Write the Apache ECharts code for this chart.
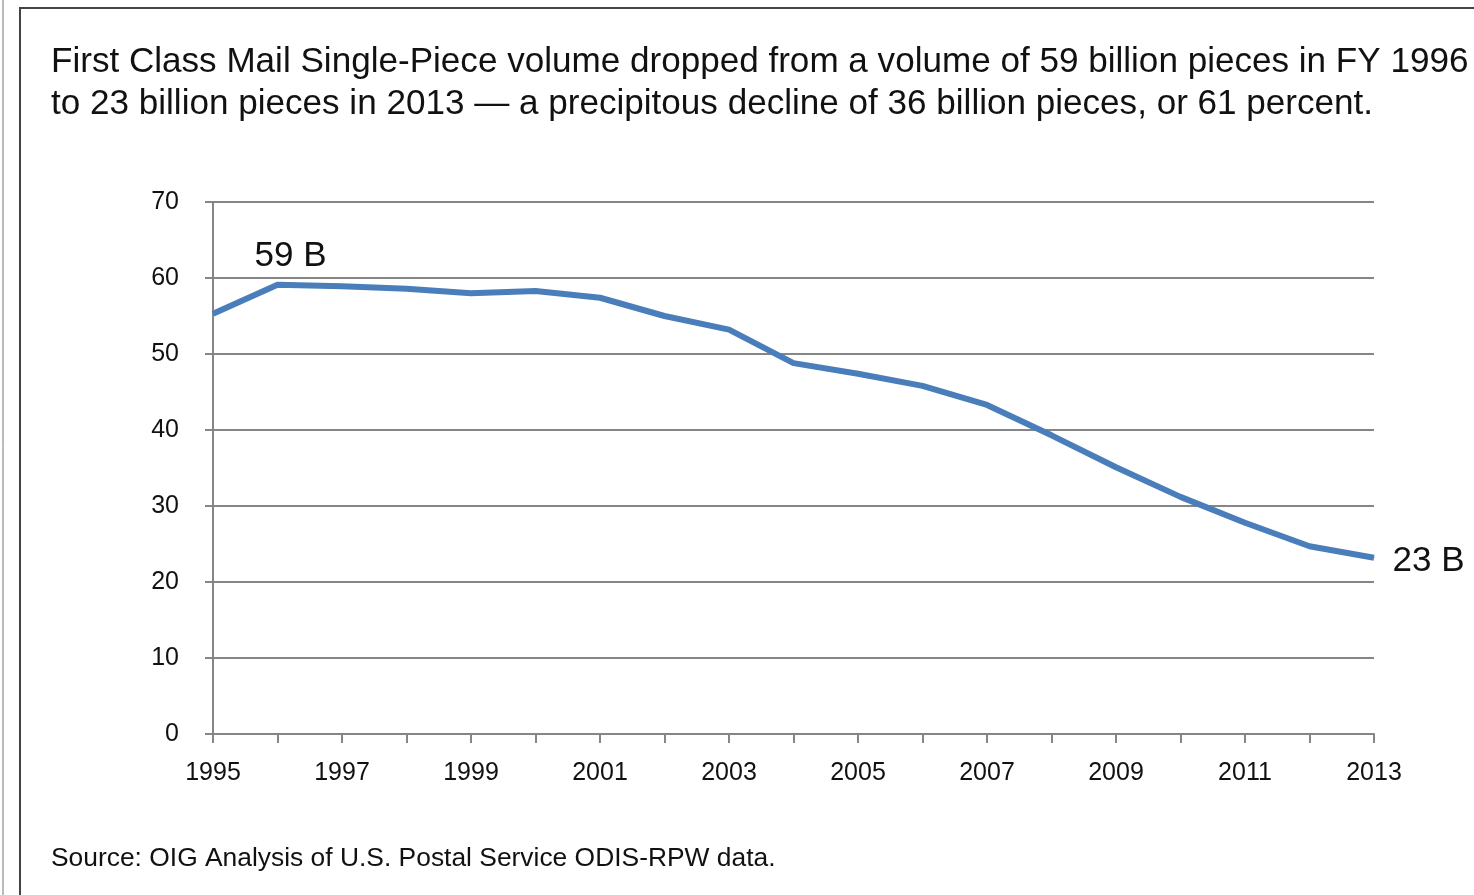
<!DOCTYPE html>
<html>
<head>
<meta charset="utf-8">
<script src="https://cdn.jsdelivr.net/npm/echarts@6/dist/echarts.min.js"></script>
<style>
html,body{margin:0;padding:0;background:#fff;}
#chart{width:1474px;height:895px;}
</style>
</head>
<body>
<div id="chart"></div>
<script>
const years = ['1995','1996','1997','1998','1999','2000','2001','2002','2003','2004','2005','2006','2007','2008','2009','2010','2011','2012','2013'];
const volume = [55.3, 59.1, 58.9, 58.6, 58.0, 58.3, 57.4, 55.0, 53.2, 48.8, 47.4, 45.8, 43.3, 39.3, 35.1, 31.2, 27.8, 24.7, 23.2];
const labelledIdx = [1, 18];
const titleText = 'First Class Mail Single-Piece volume dropped from a volume of 59 billion pieces in FY 1996\nto 23 billion pieces in 2013 \u2014 a precipitous decline of 36 billion pieces, or 61 percent.';
const sourceText = 'Source: OIG Analysis of U.S. Postal Service ODIS-RPW data.';

const chart = echarts.init(document.getElementById('chart'));
const font = '"Liberation Sans", Arial, sans-serif';

const seriesData = volume.map((v, i) => {
  if (i === labelledIdx[0]) {
    return {value: v, label: {show: true, position: 'top', distance: 10, offset: [13, 0]}};
  }
  if (i === labelledIdx[1]) {
    return {value: v, label: {show: true, position: 'right', distance: 18, offset: [0, 4]}};
  }
  return v;
});

chart.setOption({
  animation: false,
  backgroundColor: '#fff',
  title: {
    text: titleText,
    left: 46, top: 36,
    textStyle: {fontFamily: font, fontSize: 35.1, fontWeight: 'normal', color: '#111', lineHeight: 42}
  },
  graphic: [
    {type: 'rect', shape: {x: 20, y: 8, width: 1480, height: 900}, style: {fill: 'none', stroke: '#444', lineWidth: 2}, silent: true},
    {type: 'line', shape: {x1: 3, y1: 0, x2: 3, y2: 895}, style: {stroke: '#777', lineWidth: 1}, silent: true},
    {type: 'text', left: 51, top: 846, style: {text: sourceText, font: '26.4px "Liberation Sans", Arial, sans-serif', fill: '#111'}}
  ],
  grid: {left: 213, right: 100, top: 202, bottom: 161, containLabel: false},
  xAxis: {
    type: 'category',
    data: years,
    boundaryGap: false,
    axisLine: {lineStyle: {color: '#868686', width: 2}},
    axisTick: {show: true, interval: 0, length: 9, lineStyle: {color: '#868686', width: 2}},
    axisLabel: {interval: 1, margin: 27, fontFamily: font, fontSize: 25, color: '#111'}
  },
  yAxis: {
    type: 'value',
    min: 0, max: 70, interval: 10,
    axisLine: {show: true, lineStyle: {color: '#868686', width: 2}},
    axisTick: {show: true, length: 8, lineStyle: {color: '#868686', width: 2}},
    axisLabel: {margin: 34, fontFamily: font, fontSize: 25, color: '#111'},
    splitLine: {show: true, lineStyle: {color: '#868686', width: 2}}
  },
  series: [{
    type: 'line',
    data: seriesData,
    symbol: 'circle',
    symbolSize: 1,
    showSymbol: true,
    lineStyle: {color: '#4A7EBB', width: 6},
    itemStyle: {color: '#4A7EBB'},
    label: {show: false, formatter: p => Math.round(p.value) + ' B', fontFamily: font, fontSize: 35, color: '#111'}
  }]
});
</script>
</body>
</html>
